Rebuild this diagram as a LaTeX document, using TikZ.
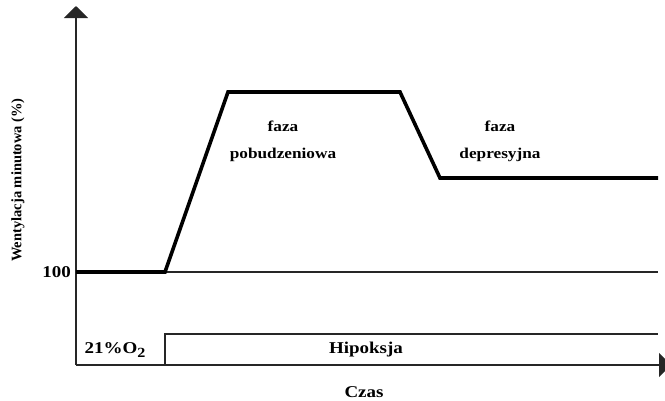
\documentclass[tikz,border=0pt]{standalone}
\usepackage{fontspec}
\setmainfont{Liberation Serif}[FakeStretch=1.15]
\newfontfamily\axisfont{Liberation Serif}
\usetikzlibrary{positioning}
\usetikzlibrary{arrows.meta}
\tikzset{
    axisline/.style = {line width=1.5pt,draw=black!85,-{Triangle[width=24pt,length=12pt]}},
    levelline/.style = {line width=1.2pt,draw=black!85},
    curveline/.style = {line width=3.6pt,draw=black,line join=miter},
    boxline/.style = {line width=1.5pt,draw=black!85},
    lbl/.style = {align=center,inner sep=0pt,font=\fontsize{15}{27}\selectfont\bfseries},
    biglbl/.style = {lbl,font=\fontsize{16.5}{20}\selectfont\bfseries},
    ylbl/.style = {inner sep=0pt,rotate=90,font=\axisfont\fontsize{14.5}{17}\selectfont\bfseries}
}
\begin{document}
\begin{tikzpicture}[x=1pt,y=-1pt]
\useasboundingbox (0,0) rectangle (665,400);
%
\coordinate (o) at (76,365);
\coordinate (ytop) at (76,6);
\coordinate (xend) at (671,365);
\coordinate (l0) at (76,272);
\coordinate (l1) at (658,272);
\coordinate (c1) at (165,272);
\coordinate (c2) at (228,92);
\coordinate (c3) at (400,92);
\coordinate (c4) at (440,178);
\coordinate (c5) at (658,178);
\coordinate (h1) at (165,365);
\coordinate (h2) at (165,334);
\coordinate (h3) at (658,334);
%
\draw[axisline] (o) -- (ytop);
\draw[axisline] (o) -- (xend);
\draw[levelline] (l0) -- (l1);
\draw[boxline] (h1) -- (h2) -- (h3);
\draw[curveline] (l0) -- (c1) -- (c2) -- (c3) -- (c4) -- (c5);
%
\node[biglbl, anchor=east] at (71,272) (hundred) {100};
\node[biglbl] at (115,350) (oxy) {21\%O\raisebox{-4pt}{\fontsize{14}{14}\selectfont 2}};
\node[biglbl] at (366,350) (hipo) {Hipoksja};
\node[biglbl] at (364,392) (czas) {Czas};
\node[lbl] at (283,141) (pob) {faza\\pobudzeniowa};
\node[lbl] at (500,141) (dep) {faza\\depresyjna};
\node[ylbl] at (18,180) (went) {Wentylacja minutowa (\%)};
\end{tikzpicture}
\end{document}
